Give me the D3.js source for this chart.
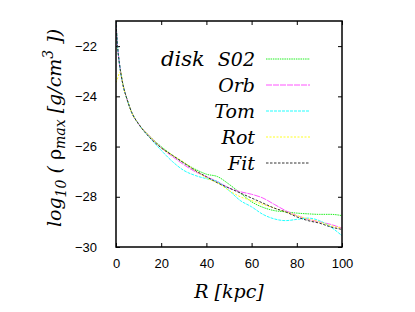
<!DOCTYPE html>
<head>
  <meta charset="utf-8">
  <script src="https://d3js.org/d3.v7.min.js"></script>
  <style>
    body { margin: 0; background: #fff; }
  </style>
</head>
<body>
  <script>
    // radius grid (kpc)
    var radius = [0, 0.5, 1, 2, 3, 5, 7, 10, 15, 20, 25, 30, 35, 40, 45, 50, 55, 60, 65, 70, 75, 80, 85, 90, 95, 100];

    var s02 = [-21.0, -21.8, -22.3, -23.0, -23.5, -24.15, -24.65, -25.1, -25.6, -26.0, -26.35, -26.65, -26.9, -27.1, -27.2, -27.5, -27.85, -28.2, -28.42, -28.55, -28.6, -28.65, -28.68, -28.7, -28.7, -28.75];
    var orb = [-21.0, -21.8, -22.3, -23.0, -23.5, -24.15, -24.65, -25.1, -25.6, -26.05, -26.4, -26.72, -27.0, -27.2, -27.4, -27.65, -27.8, -27.9, -28.05, -28.3, -28.55, -28.75, -28.9, -29.0, -29.1, -29.25];
    var tom = [-21.0, -21.8, -22.3, -23.0, -23.5, -24.15, -24.65, -25.1, -25.65, -26.15, -26.6, -26.95, -27.15, -27.28, -27.4, -27.75, -28.15, -28.4, -28.7, -28.88, -28.95, -28.9, -28.85, -28.95, -29.2, -29.55];
    var rot = [-23.45, -23.35, -23.2, -23.0, -23.5, -24.15, -24.65, -25.1, -25.6, -26.05, -26.35, -26.62, -26.95, -27.25, -27.45, -27.75, -28.0, -28.15, -28.3, -28.45, -28.6, -28.75, -28.88, -29.0, -29.15, -29.25];
    var fit = [-21.0, -21.8, -22.3, -23.0, -23.5, -24.15, -24.65, -25.1, -25.65, -26.05, -26.35, -26.65, -26.95, -27.2, -27.45, -27.65, -27.85, -28.05, -28.25, -28.45, -28.6, -28.8, -28.95, -29.05, -29.2, -29.3];

    var seriesNames = ["S02", "Orb", "Tom", "Rot", "Fit"];
    var seriesValues = [s02, orb, tom, rot, fit];
    var seriesColors = ["#22ee22", "#ff55ff", "#22ffff", "#ffff22", "#333333"];
    var seriesDash = ["1.5,0.8", "6,1", "3,1", "2,1.5", "2.5,1.5"];

    var xTicks = [0, 20, 40, 60, 80, 100];
    var yTicks = [-30, -28, -26, -24, -22];

    var serif = "'DejaVu Serif', serif";
    var sans = "'Liberation Sans', 'DejaVu Sans', sans-serif";

    var margin = { top: 21, right: 73, bottom: 65, left: 116 },
      width = 415 - margin.left - margin.right,
      height = 312 - margin.top - margin.bottom;

    var svg = d3.select("body").append("svg")
      .attr("width", 415)
      .attr("height", 312);

    var g = svg.append("g")
      .attr("transform", "translate(" + margin.left + "," + margin.top + ")");

    var x = d3.scaleLinear().domain([0, 100]).range([0, width]);
    var y = d3.scaleLinear().domain([-30, -21]).range([height, 0]);

    // axes with inward ticks, mirrored on top/right
    g.append("g")
      .attr("transform", "translate(0," + height + ")")
      .call(d3.axisBottom(x).tickValues(xTicks).tickSizeInner(-4).tickSizeOuter(0).tickPadding(12))
      .call(function (a) { a.select(".domain").remove(); });
    g.append("g")
      .call(d3.axisTop(x).tickValues(xTicks).tickSizeInner(-4).tickSizeOuter(0).tickFormat(""))
      .call(function (a) { a.select(".domain").remove(); });
    g.append("g")
      .call(d3.axisLeft(y).tickValues(yTicks).tickSizeInner(-4).tickSizeOuter(0).tickPadding(19))
      .call(function (a) { a.select(".domain").remove(); });
    g.append("g")
      .attr("transform", "translate(" + width + ",0)")
      .call(d3.axisRight(y).tickValues(yTicks).tickSizeInner(-4).tickSizeOuter(0).tickFormat(""))
      .call(function (a) { a.select(".domain").remove(); });
    g.selectAll(".tick line").attr("stroke", "#000");
    g.selectAll(".tick text")
      .style("font-family", sans).style("font-size", "13px").attr("fill", "#000");

    g.append("clipPath").attr("id", "clip")
      .append("rect").attr("width", width).attr("height", height);

    var line = d3.line()
      .x(function (d) { return x(d[0]); })
      .y(function (d) { return y(d[1]); })
      .curve(d3.curveMonotoneX);

    seriesValues.forEach(function (vals, i) {
      g.append("path")
        .attr("clip-path", "url(#clip)")
        .datum(radius.map(function (r, j) { return [r, vals[j]]; }))
        .attr("fill", "none")
        .attr("stroke", seriesColors[i])
        .attr("stroke-width", 1)
        .attr("stroke-dasharray", seriesDash[i])
        .attr("d", line);
    });

    // frame
    g.append("rect")
      .attr("width", width).attr("height", height)
      .attr("fill", "none").attr("stroke", "#000").attr("stroke-width", 1.5);

    function label(tx, ty, size, anchor) {
      return svg.append("text")
        .style("font-family", serif).style("font-style", "italic").style("font-size", size + "px")
        .attr("text-anchor", anchor)
        .attr("x", tx).attr("y", ty);
    }

    // legend
    var legY0 = 59, legStep = 26;
    label(161, legY0 + 7, 21, "start").text("disk");
    seriesNames.forEach(function (name, i) {
      var yy = legY0 + i * legStep;
      label(255, yy + 7, 19, "end").text(name);
      svg.append("line")
        .attr("x1", 266).attr("x2", 310)
        .attr("y1", yy).attr("y2", yy)
        .attr("stroke", seriesColors[i]).attr("stroke-width", 1)
        .attr("stroke-dasharray", seriesDash[i]);
    });

    // x label
    label(229, 298, 19, "middle").text("R [kpc]");

    // y label
    var yl = svg.append("text")
      .style("font-family", serif).style("font-style", "italic").style("font-size", "19px")
      .attr("transform", "translate(61,128) rotate(-90)")
      .attr("text-anchor", "middle");
    yl.append("tspan").text("log");
    yl.append("tspan").attr("dy", 5).style("font-size", "14px").text("10");
    yl.append("tspan").attr("dy", -5).text(" ( ");
    yl.append("tspan").style("font-style", "normal").text("\u03c1");
    yl.append("tspan").attr("dy", 4).style("font-size", "14px").text("max");
    yl.append("tspan").attr("dy", -4).text(" [g/cm");
    yl.append("tspan").attr("dy", -8).style("font-size", "14px").text("3");
    yl.append("tspan").attr("dy", 8).text(" ])");
  </script>
</body>
